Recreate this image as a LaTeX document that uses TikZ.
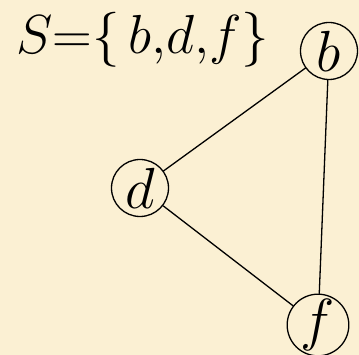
\documentclass[tikz,border=0pt]{standalone}
\usepackage{fix-cm}
\definecolor{parchment}{RGB}{251,240,211}

\begin{document}
\begin{tikzpicture}[x=1pt,y=-1pt,line cap=round,line join=round,
  vertex/.style={draw,circle,line width=1.3pt,minimum size=57pt,inner sep=0pt,font=\fontsize{58}{58}\selectfont}]
  \fill[parchment] (0,0) rectangle (359,355);
  \useasboundingbox (0,0) rectangle (359,355);
  \node[anchor=base west,inner sep=0pt,font=\fontsize{55}{55}\selectfont] (set) at (16,54)
    {$S{=}\{\,b{,}d{,}f\}$};
  \node[vertex] (b) at (329,51) {$b$};
  \node[vertex] (d) at (140,188) {$d$};
  \node[vertex] (f) at (318,325) {$f$};
  \draw[line width=1.3pt] (b) -- (d);
  \draw[line width=1.3pt] (b) -- (f);
  \draw[line width=1.3pt] (d) -- (f);
\end{tikzpicture}
\end{document}
